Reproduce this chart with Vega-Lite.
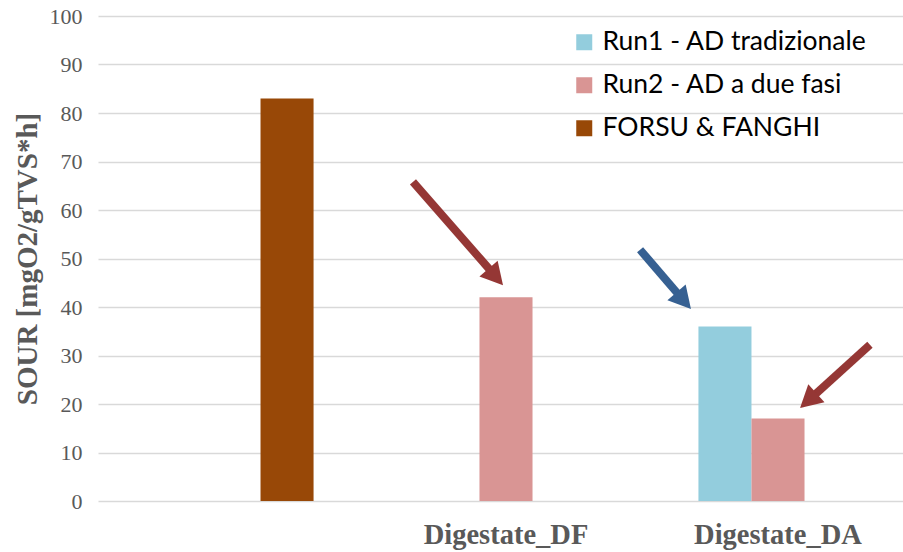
{
  "$schema": "https://vega.github.io/schema/vega-lite/v6.json",
  "autosize": "none",
  "padding": {"left": 98, "top": 16, "right": 0, "bottom": 51},
  "width": 805,
  "height": 485,
  "background": "white",
  "config": {
    "view": {"stroke": null},
    "axis": {"domain": false, "ticks": false}
  },
  "datasets": {
    "bars": [
      {"category": " ", "series": "FORSU & FANGHI", "sour": 83},
      {"category": "Digestate_DF", "series": "Run2 - AD a due fasi", "sour": 42},
      {"category": "Digestate_DA", "series": "Run1 - AD tradizionale", "sour": 36},
      {"category": "Digestate_DA", "series": "Run2 - AD a due fasi", "sour": 17}
    ],
    "arrows": [
      {"target": "Run2 DF", "tone": "red", "tail_x": 1.158, "tail_y": 65.8, "neck_x": 1.456, "neck_y": 46.7, "tip_x": 1.489, "tip_y": 44.5, "heading": 138.9},
      {"target": "Run2 DA", "tone": "red", "tail_x": 2.838, "tail_y": 32.2, "neck_x": 2.619, "neck_y": 21.1, "tip_x": 2.581, "tip_y": 19.2, "heading": 228},
      {"target": "Run1 DA", "tone": "blue", "tail_x": 1.993, "tail_y": 51.8, "neck_x": 2.146, "neck_y": 41.8, "tip_x": 2.18, "tip_y": 39.6, "heading": 139}
    ]
  },
  "layer": [
    {
      "data": {"name": "bars"},
      "mark": {"type": "bar"},
      "encoding": {
        "x": {
          "field": "category", "type": "nominal",
          "sort": [" ", "Digestate_DF", "Digestate_DA"],
          "scale": {"paddingInner": 0.415, "paddingOuter": 0.2075, "range": [0, 816]},
          "axis": {
            "title": null, "labelAngle": 0,
            "labelFont": "Liberation Serif", "labelFontWeight": "bold",
            "labelFontSize": 28.5, "labelColor": "#595959", "labelPadding": 19
          }
        },
        "xOffset": {
          "field": "series", "type": "nominal",
          "sort": ["Run1 - AD tradizionale", "Run2 - AD a due fasi", "FORSU & FANGHI"],
          "scale": {"domain": ["Run1 - AD tradizionale", "Run2 - AD a due fasi", "FORSU & FANGHI"], "paddingInner": 0, "paddingOuter": 0}
        },
        "y": {
          "field": "sour", "type": "quantitative",
          "scale": {"domain": [0, 100], "nice": false},
          "axis": {
            "values": [0, 10, 20, 30, 40, 50, 60, 70, 80, 90, 100],
            "title": "SOUR [mgO2/gTVS*h]",
            "titleFont": "Liberation Serif", "titleFontWeight": "bold",
            "titleFontSize": 29, "titleColor": "#595959", "titlePadding": 7,
            "labelFont": "Liberation Serif", "labelFontSize": 22, "labelColor": "#595959",
            "labelPadding": 16,
            "grid": true, "gridColor": "#D9D9D9", "gridWidth": 1.5
          }
        },
        "color": {
          "field": "series", "type": "nominal",
          "scale": {
            "domain": ["Run1 - AD tradizionale", "Run2 - AD a due fasi", "FORSU & FANGHI"],
            "range": ["#93CDDD", "#D99594", "#984807"]
          },
          "legend": {
            "title": null, "orient": "none", "legendX": 473, "legendY": 13,
            "symbolType": "square", "symbolSize": 256, "symbolStrokeWidth": 0,
            "labelFont": "Lato", "labelFontSize": 26.5, "labelColor": "#000000",
            "labelOffset": 5, "rowPadding": 16, "padding": 0, "labelLimit": 500
          }
        }
      }
    },
    {
      "data": {"name": "arrows"},
      "transform": [{"filter": "datum.tone === 'red'"}],
      "mark": {"type": "rule", "color": "#953735", "strokeWidth": 8, "strokeCap": "butt"},
      "encoding": {
        "x": {"field": "tail_x", "type": "quantitative", "scale": {"domain": [0, 3], "range": [0, 816], "nice": false, "zero": false}, "axis": null},
        "y": {"field": "tail_y", "type": "quantitative"},
        "x2": {"field": "neck_x"},
        "y2": {"field": "neck_y"}
      }
    },
    {
      "data": {"name": "arrows"},
      "transform": [{"filter": "datum.tone === 'blue'"}],
      "mark": {"type": "rule", "color": "#366092", "strokeWidth": 8, "strokeCap": "butt"},
      "encoding": {
        "x": {"field": "tail_x", "type": "quantitative", "scale": {"domain": [0, 3], "range": [0, 816], "nice": false, "zero": false}, "axis": null},
        "y": {"field": "tail_y", "type": "quantitative"},
        "x2": {"field": "neck_x"},
        "y2": {"field": "neck_y"}
      }
    },
    {
      "data": {"name": "arrows"},
      "transform": [{"filter": "datum.tone === 'red'"}],
      "mark": {"type": "point", "filled": true, "opacity": 1, "color": "#953735", "shape": "M0,0L1.1,2L-1.1,2Z", "size": 484},
      "encoding": {
        "x": {"field": "tip_x", "type": "quantitative", "scale": {"domain": [0, 3], "range": [0, 816], "nice": false, "zero": false}, "axis": null},
        "y": {"field": "tip_y", "type": "quantitative"},
        "angle": {"field": "heading", "type": "quantitative", "scale": null}
      }
    },
    {
      "data": {"name": "arrows"},
      "transform": [{"filter": "datum.tone === 'blue'"}],
      "mark": {"type": "point", "filled": true, "opacity": 1, "color": "#366092", "shape": "M0,0L1.1,2L-1.1,2Z", "size": 484},
      "encoding": {
        "x": {"field": "tip_x", "type": "quantitative", "scale": {"domain": [0, 3], "range": [0, 816], "nice": false, "zero": false}, "axis": null},
        "y": {"field": "tip_y", "type": "quantitative"},
        "angle": {"field": "heading", "type": "quantitative", "scale": null}
      }
    }
  ],
  "resolve": {"scale": {"x": "independent"}, "axis": {"x": "independent"}}
}
